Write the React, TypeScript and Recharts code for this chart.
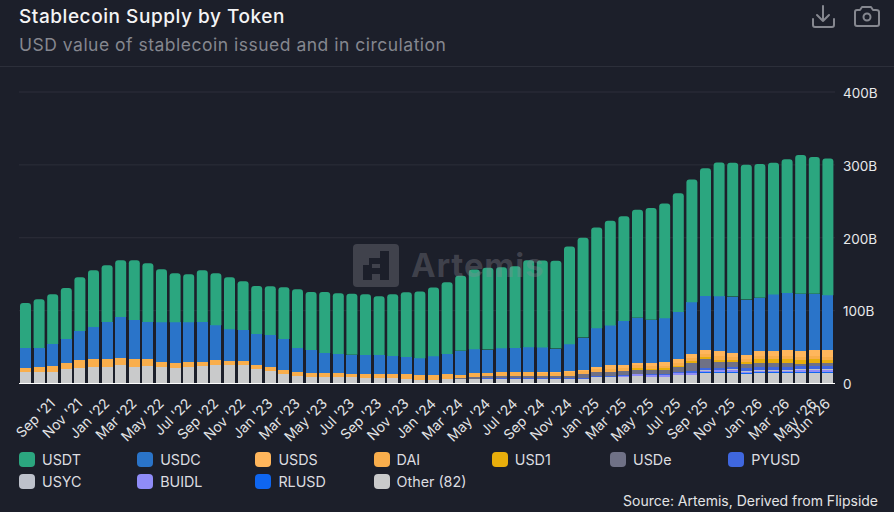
import React from 'react';
import { BarChart, Bar, XAxis, YAxis, CartesianGrid } from 'recharts';

const months = [
  "Jul '21", "Aug '21", "Sep '21", "Oct '21", "Nov '21", "Dec '21",
  "Jan '22", "Feb '22", "Mar '22", "Apr '22", "May '22", "Jun '22", "Jul '22", "Aug '22", "Sep '22", "Oct '22", "Nov '22", "Dec '22",
  "Jan '23", "Feb '23", "Mar '23", "Apr '23", "May '23", "Jun '23", "Jul '23", "Aug '23", "Sep '23", "Oct '23", "Nov '23", "Dec '23",
  "Jan '24", "Feb '24", "Mar '24", "Apr '24", "May '24", "Jun '24", "Jul '24", "Aug '24", "Sep '24", "Oct '24", "Nov '24", "Dec '24",
  "Jan '25", "Feb '25", "Mar '25", "Apr '25", "May '25", "Jun '25", "Jul '25", "Aug '25", "Sep '25", "Oct '25", "Nov '25", "Dec '25",
  "Jan '26", "Feb '26", "Mar '26", "Apr '26", "May '26", "Jun '26",
];

const xTicks = [
  "Sep '21", "Nov '21", "Jan '22", "Mar '22", "May '22", "Jul '22", "Sep '22", "Nov '22",
  "Jan '23", "Mar '23", "May '23", "Jul '23", "Sep '23", "Nov '23",
  "Jan '24", "Mar '24", "May '24", "Jul '24", "Sep '24", "Nov '24",
  "Jan '25", "Mar '25", "May '25", "Jul '25", "Sep '25", "Nov '25",
  "Jan '26", "Mar '26", "May '26", "Jun '26",
];
const yTicks = [0, 100, 200, 300, 400];

// values in billions of USD, one per month
const other = [
  15.8, 15.8, 15.8, 19.9, 21.2, 22.6, 22.6, 25.3, 22.6, 24,
  22.6, 21.2, 22.6, 24, 25.3, 25.3, 25.3, 19.9, 17.1, 13,
  10.3, 8.9, 8.9, 8.9, 8.9, 7.5, 7.5, 7.5, 6.2, 4.8,
  4.8, 6.2, 5.5, 6.2, 6.2, 6.2, 6.2, 6.2, 6.2, 6.2,
  6.2, 6.2, 8.9, 8.9, 8.9, 10.3, 8.9, 8.9, 11.6, 11.6,
  14.4, 14.4, 14.4, 13, 14.4, 14.4, 14.4, 14.4, 14.4, 14.4,
];
const rlusd = [
  0, 0, 0, 0, 0, 0, 0, 0, 0, 0,
  0, 0, 0, 0, 0, 0, 0, 0, 0, 0,
  0, 0, 0, 0, 0, 0, 0, 0, 0, 0,
  0, 0, 0, 0, 0, 0, 0, 0, 0, 0,
  0, 0, 0, 0, 0, 0, 0, 0.1, 0.3, 0.6,
  0.8, 1, 1.2, 1.3, 1.3, 1.4, 1.5, 1.5, 1.5, 1.5,
];
const buidl = [
  0, 0, 0, 0, 0, 0, 0, 0, 0, 0,
  0, 0, 0, 0, 0, 0, 0, 0, 0, 0,
  0, 0, 0, 0, 0, 0, 0, 0, 0, 0,
  0, 0, 0.2, 0.3, 0.4, 0.4, 0.5, 0.5, 0.5, 0.5,
  0.5, 0.5, 0.6, 0.7, 1.7, 2.4, 2.6, 2.7, 2.5, 2.3,
  2.3, 2.8, 2.5, 1.8, 2, 2, 1.8, 2, 2.5, 2,
];
const usyc = [
  0, 0, 0, 0, 0, 0, 0, 0, 0, 0,
  0, 0, 0, 0, 0, 0, 0, 0, 0, 0,
  0, 0, 0, 0, 0, 0, 0, 0, 0, 0,
  0, 0, 0, 0, 0, 0, 0, 0, 0, 0,
  0, 0, 0, 0, 0.1, 0.2, 0.3, 0.3, 0.4, 0.5,
  0.8, 1, 1.2, 1.2, 1.4, 1.4, 1.5, 1.8, 2, 2,
];
const pyusd = [
  0, 0, 0, 0, 0, 0, 0, 0, 0, 0,
  0, 0, 0, 0, 0, 0, 0, 0, 0, 0,
  0, 0, 0, 0, 0, 0, 0, 0, 0, 0,
  0, 0, 0.2, 0.2, 0.3, 0.4, 0.5, 0.8, 0.7, 0.6,
  0.5, 0.5, 0.5, 0.7, 0.6, 0.8, 0.9, 1, 1.2, 1.5,
  2.5, 2.6, 3.6, 3.8, 3.6, 3.9, 4, 3.7, 3.8, 3.5,
];
const usde = [
  0, 0, 0, 0, 0, 0, 0, 0, 0, 0,
  0, 0, 0, 0, 0, 0, 0, 0, 0, 0,
  0, 0, 0, 0, 0, 0, 0, 0, 0, 0,
  0, 0.5, 1, 2, 2.8, 3.2, 3.2, 2.8, 2.5, 2.5,
  3.5, 5.8, 6, 5.5, 6, 5.4, 5.4, 5.6, 6.4, 12,
  12.8, 8, 6, 5.5, 5.5, 5.5, 5.5, 4, 4.5, 4.5,
];
const usd1 = [
  0, 0, 0, 0, 0, 0, 0, 0, 0, 0,
  0, 0, 0, 0, 0, 0, 0, 0, 0, 0,
  0, 0, 0, 0, 0, 0, 0, 0, 0, 0,
  0, 0, 0, 0, 0, 0, 0, 0, 0, 0,
  0, 0, 0, 0, 0, 2.2, 2.2, 2.2, 2.2, 2.5,
  2.7, 3, 2.8, 2.8, 5, 4.5, 4.5, 4.5, 4.3, 4.5,
];
const dai = [
  5.5, 6.8, 8.2, 8.2, 11, 11, 11, 9.6, 11, 9.6,
  6.8, 6.8, 6.8, 5.5, 6.8, 5.5, 5.5, 5.5, 5.5, 5.5,
  5.5, 5.5, 5.5, 5.5, 4.5, 5.5, 5.5, 5.5, 6.8, 6.5,
  6.5, 6.4, 5.3, 5.3, 5.3, 5.3, 5.3, 5.3, 5, 4.5,
  4.5, 4.2, 3.8, 3.8, 3.5, 3.7, 3.8, 3.7, 3.9, 4,
  4.2, 4.5, 4.4, 4.2, 4.5, 4.2, 4.6, 4.6, 4.8, 4.5,
];
const usds = [
  0, 0, 0, 0, 0, 0, 0, 0, 0, 0,
  0, 0, 0, 0, 0, 0, 0, 0, 0, 0,
  0, 0, 0, 0, 0, 0, 0, 0, 0, 0,
  0, 0, 0, 0, 0, 0, 0, 0, 0.4, 0.8,
  1.5, 2, 2.6, 5.2, 4.7, 3.7, 4.5, 4.6, 5.3, 5.4,
  5.4, 7.1, 5.1, 4.9, 7.4, 6.8, 8.3, 8.7, 8.7, 8.8,
];
const usdc = [
  27.4, 26, 30.1, 32.9, 39.7, 43.8, 50.7, 56.2, 53.4, 50.7,
  54.8, 56.2, 54.8, 54.8, 47.9, 43.8, 42.5, 42.5, 43.8, 42.5,
  32.9, 31.5, 27.4, 26, 26, 26, 26, 24.7, 23.3, 23.3,
  26, 27.4, 32.9, 32.9, 31.5, 32.9, 32.9, 34.2, 34.2, 32.9,
  37, 43.8, 53.4, 54.8, 60.3, 61.6, 58.9, 60.3, 64.4, 71.2,
  74, 75.3, 78.1, 76.7, 72.6, 78.1, 78.1, 78.1, 76.7, 75.3,
];
const usdt = [
  61.6, 67.1, 68.5, 69.9, 74, 78.1, 78.1, 78.1, 82.2, 80.8,
  72.6, 67.1, 65.8, 71.2, 71.2, 71.2, 67.1, 65.8, 67.1, 71.2,
  80.8, 79.5, 83.6, 83.6, 83.6, 83.6, 80.8, 84.9, 89, 91.8,
  94.5, 98.6, 102.7, 109.6, 112.3, 111, 112.3, 119.2, 119.2, 120.5,
  134.2, 137, 138.4, 143.8, 143.8, 148, 153.4, 157.5, 163, 168.5,
  175.3, 183.6, 183.6, 184.9, 183.6, 180.8, 183.6, 190.4, 187.7, 187.7,
];

const legendRows = [
  [['USDT', '#2ba67f'], ['USDC', '#2a74c9'], ['USDS', '#ffb65c'], ['DAI', '#f9ae4c'], ['USD1', '#e8ae0c'], ['USDe', '#6f7186'], ['PYUSD', '#3f67df']],
  [['USYC', '#bdc1cb'], ['BUIDL', '#8f8cf8'], ['RLUSD', '#0f66f0'], ['Other (82)', '#c9cacb']],
];

const data = months.map((month, i) => ({
  month,
  other: other[i],
  rlusd: rlusd[i],
  buidl: buidl[i],
  usyc: usyc[i],
  pyusd: pyusd[i],
  usde: usde[i],
  usd1: usd1[i],
  dai: dai[i],
  usds: usds[i],
  usdc: usdc[i],
  usdt: usdt[i],
}));

const FONT = 'Inter, "Noto Sans", sans-serif';

function MonthTick({ x, y, payload }: any) {
  return (
    <text
      transform={`translate(${x + 3},${y + 13}) rotate(-45)`}
      textAnchor="end"
      fontSize={14}
      fontFamily={FONT}
      fill="#e3e4e6"
    >
      {payload.value}
    </text>
  );
}

function Watermark() {
  return (
    <div style={{ position: 'absolute', left: 353, top: 244, pointerEvents: 'none' }}>
      <svg width={200} height={44} style={{ display: 'block' }}>
        <rect x={0} y={0} width={46} height={43} rx={4} fill="rgba(140,140,150,0.32)" />
        <path d="M27 7H36V36H27V30H19V36H10V21H16V14H27ZM19 20V24H27V20Z" fill="#1c1f2a" />
        <text x={58} y={33} fontSize={33} fontWeight={700} fontFamily={FONT} letterSpacing={0.8} fill="rgba(140,140,150,0.32)">
          Artemis
        </text>
      </svg>
    </div>
  );
}

export default function App() {
  return (
    <div style={{ position: 'absolute', left: 0, top: 0, width: 894, height: 512, background: '#1c1f2a', fontFamily: FONT, overflow: 'hidden' }}>
      <div style={{ position: 'absolute', left: 19, top: 5, fontSize: 19, fontWeight: 500, color: '#f4f4f5', letterSpacing: 0.55 }}>
        Stablecoin Supply by Token
      </div>
      <div style={{ position: 'absolute', left: 19, top: 34, fontSize: 17.5, color: '#85878f', letterSpacing: 0.5 }}>
        USD value of stablecoin issued and in circulation
      </div>
      <div style={{ position: 'absolute', left: 0, top: 66, width: 894, height: 1, background: '#2c2f3a' }} />

      <svg width={80} height={34} style={{ position: 'absolute', left: 806, top: 0 }} fill="none" stroke="#85878f" strokeWidth={2} strokeLinecap="round" strokeLinejoin="round">
        <path d="M17 6V21M11 15L17 21L23 15M7 19V25Q7 27 9 27H26Q28 27 28 25V19" />
        <path d="M49 12Q49 10 51 10H54L56 7H65L67 10H70Q73 10 73 12V24Q73 26 71 26H51Q49 26 49 24Z" />
        <circle cx={61} cy={17} r={3.5} />
      </svg>

      <div style={{ position: 'absolute', left: 0, top: 0 }}>
        <BarChart width={894} height={512} data={data} margin={{ top: 92, right: 0, bottom: 0, left: 19 }} barSize={11}>
          <CartesianGrid vertical={false} stroke="#2c2f3a" />
          <XAxis
            dataKey="month"
            ticks={xTicks}
            interval={0}
            height={128.5}
            tick={<MonthTick />}
            tickLine={false}
            axisLine={{ stroke: '#ffffff', strokeWidth: 1 }}
          />
          <YAxis
            orientation="right"
            width={59}
            domain={[0, 400]}
            ticks={yTicks}
            axisLine={false}
            tickLine={false}
            tickMargin={2}
            tickFormatter={(v: number) => (v === 0 ? '0' : `${v}B`)}
            tick={{ fontSize: 13.5, fill: '#e8e9eb', fontFamily: FONT, textAnchor: 'start', dy: 1 }}
          />
          <Bar dataKey="other" stackId="a" fill="#c9cacb" shapeRendering="crispEdges" isAnimationActive={false} />
          <Bar dataKey="rlusd" stackId="a" fill="#0f66f0" shapeRendering="crispEdges" isAnimationActive={false} />
          <Bar dataKey="buidl" stackId="a" fill="#8f8cf8" shapeRendering="crispEdges" isAnimationActive={false} />
          <Bar dataKey="usyc" stackId="a" fill="#bdc1cb" shapeRendering="crispEdges" isAnimationActive={false} />
          <Bar dataKey="pyusd" stackId="a" fill="#3f67df" shapeRendering="crispEdges" isAnimationActive={false} />
          <Bar dataKey="usde" stackId="a" fill="#6f7186" shapeRendering="crispEdges" isAnimationActive={false} />
          <Bar dataKey="usd1" stackId="a" fill="#e8ae0c" shapeRendering="crispEdges" isAnimationActive={false} />
          <Bar dataKey="dai" stackId="a" fill="#f9ae4c" shapeRendering="crispEdges" isAnimationActive={false} />
          <Bar dataKey="usds" stackId="a" fill="#ffb65c" shapeRendering="crispEdges" isAnimationActive={false} />
          <Bar dataKey="usdc" stackId="a" fill="#2a74c9" shapeRendering="crispEdges" isAnimationActive={false} />
          <Bar dataKey="usdt" stackId="a" fill="#2ba67f" radius={[3, 3, 0, 0]} isAnimationActive={false} />
        </BarChart>
      </div>

      <Watermark />

      {legendRows.map((row, r) =>
        row.map(([name, color], c) => (
          <div key={name} style={{ position: 'absolute', left: 19 + c * 118.2, top: 452 + r * 22, height: 15, display: 'flex', alignItems: 'center' }}>
            <span style={{ width: 16, height: 15, borderRadius: 4, background: color, marginRight: 7 }} />
            <span style={{ fontSize: 14.3, color: '#dcdde0', whiteSpace: 'nowrap' }}>{name}</span>
          </div>
        ))
      )}

      <div style={{ position: 'absolute', right: 16, top: 492, fontSize: 14, color: '#e3e4e6' }}>
        Source: Artemis, Derived from Flipside
      </div>
    </div>
  );
}
